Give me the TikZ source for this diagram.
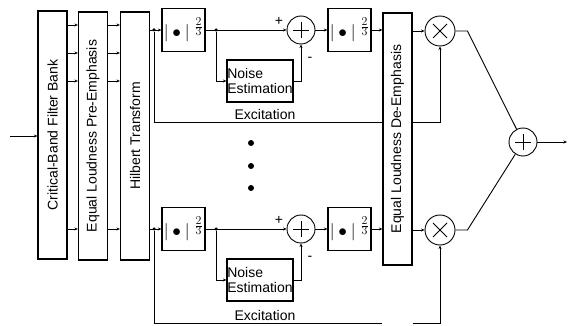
\documentclass[tikz,border=0pt]{standalone}
\usepackage{fontspec}
\setmainfont{Liberation Sans}
\usetikzlibrary{arrows.meta}

\begin{document}
\begin{tikzpicture}[x=1pt,y=-1pt,line width=0.9pt,
  every node/.style={font=\fontsize{14}{15}\selectfont,inner sep=0pt},
  arr/.style={-{Stealth[length=3.5pt,width=3pt]}},
  blk/.style={draw,line width=1.2pt,minimum width=29,minimum height=248},
  pw/.style={draw,line width=1.2pt,minimum width=43,minimum height=43,font=\fontsize{18}{19}\selectfont},
  nse/.style={draw,line width=1.2pt,minimum width=66,minimum height=42,align=left},
  sumc/.style={draw,circle,minimum size=28,
    path picture={\draw ([xshift=-8]path picture bounding box.center) -- ([xshift=8]path picture bounding box.center)
      ([yshift=-8]path picture bounding box.center) -- ([yshift=8]path picture bounding box.center);}},
  mulc/.style={draw,circle,minimum size=30,
    path picture={\draw ([shift={(-7,-7)}]path picture bounding box.center) -- ([shift={(7,7)}]path picture bounding box.center)
      ([shift={(-7,7)}]path picture bounding box.center) -- ([shift={(7,-7)}]path picture bounding box.center);}},
  jdot/.style={circle,fill,minimum size=3.5}]
  \useasboundingbox (0,0) rectangle (568,326);
  % filter bank, pre-emphasis, hilbert
  \coordinate (in) at (10,136);
  \node[blk] (fb) at (52.5,135) {};
  \node[blk] (pre) at (93,136) {};
  \node[blk] (hil) at (135,136) {};
  \node[rotate=90] at (fb) {Critical-Band Filter Bank};
  \node[rotate=90] at (pre) {Equal Loudness Pre-Emphasis};
  \node[rotate=90] at (hil) {Hilbert Transform};
  \draw[arr] (in) -- (fb.west |- in);
  \foreach \y in {25,53,81,229} {
    \draw[arr] (fb.east |- 0,\y) -- (pre.west |- 0,\y);
    \draw[arr] (pre.east |- 0,\y) -- (hil.west |- 0,\y);
  }
  % channels
  \foreach \ch/\y/\ex in {a/30/122,b/229/323} {
    \node[pw] (pw1\ch) at (183.5,\y) {$|\bullet|\;^{\frac{\scriptstyle 2}{\scriptstyle 3}}$};
    \node[sumc] (sum\ch) at (301,\y) {};
    \node[nse] (nse\ch) at (260,\y+51) {Noise\\Estimation};
    \node[pw] (pw2\ch) at (349.5,\y) {$|\bullet|\;^{\frac{\scriptstyle 2}{\scriptstyle 3}}$};
    \node[mulc] (mul\ch) at (440,\y+1) {};
    \node[jdot] (ja\ch) at (154,\y) {};
    \node[jdot] (jb\ch) at (216,\y) {};
    \draw[arr] (hil.east |- ja\ch) -- (pw1\ch.west);
    \draw[arr] (pw1\ch.east) -- (sum\ch.west);
    \draw[arr] (jb\ch) |- (nse\ch.west);
    \draw[arr] (nse\ch.east) -| (sum\ch.south);
    \draw[arr] (sum\ch.east) -- (pw2\ch.west);
    \node at ([shift={(-22,-9)}]sum\ch.center) {+};
    \node at ([shift={(9,29)}]sum\ch.center) {-};
    \draw (ja\ch) -- (ja\ch |- 0,\ex) coordinate (exa\ch);
    \node[above=2pt] at (265,\ex) {Excitation};
  }
  % de-emphasis and output
  \node[blk,minimum height=252] (de) at (397.5,139) {};
  \node[rotate=90] at (de) {Equal Loudness De-Emphasis};
  \foreach \ch in {a,b} {
    \draw[arr] (pw2\ch.east) -- (de.west |- pw2\ch);
    \draw[arr] (de.east |- mul\ch) -- (mul\ch.west);
    \draw (exa\ch) -- (de.west |- exa\ch);
    \draw[arr] (de.east |- exa\ch) -| (mul\ch.south);
  }
  \node[sumc] (out) at (523,142) {};
  \draw (mula.east) -- ++(12,0) -- (out);
  \draw (mulb.east) -- ++(12,0) -- (out);
  \draw[arr] (out.east) -- (567,142);
  \foreach \y in {143,166,188} \fill (251,\y) circle (3);
\end{tikzpicture}
\end{document}
